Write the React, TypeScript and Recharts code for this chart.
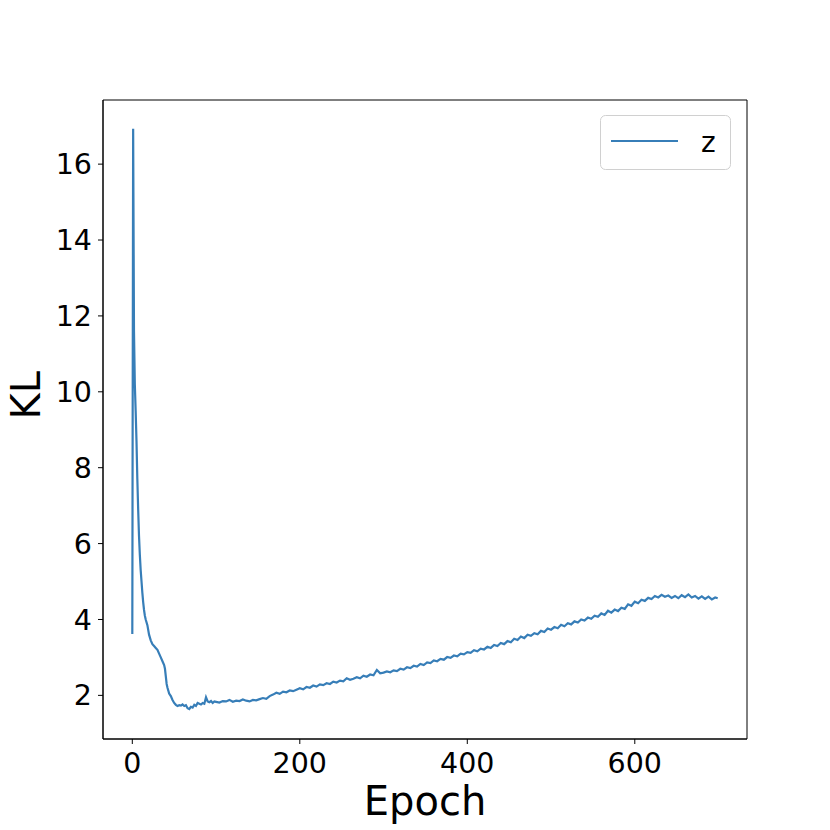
import { LineChart, Line, XAxis, YAxis, Legend, ReferenceArea } from 'recharts'

// epochs 0..98
const earlyEpochs = [
  0, 1, 2, 3, 4, 5, 6, 7, 8, 9, 10, 11, 12, 13, 14, 15, 16, 18, 20, 22, 24, 26, 28, 30,
  32, 34, 36, 38, 39, 40, 41, 42, 44, 46, 48, 50, 52, 54, 56, 58, 60, 62, 64, 66, 68,
  70, 72, 74, 76, 78, 80, 82, 84, 86, 88, 90, 92, 94, 96, 98,
]
const earlyKL = [
  3.62, 16.93, 11.6, 10.2, 9.5, 8.7, 7.7, 6.9, 6.2, 5.7, 5.3, 5.0, 4.7, 4.45, 4.25, 4.1, 4.0, 3.85, 3.6, 3.45, 3.35, 3.3, 3.25, 3.2,
  3.1, 3.0, 2.9, 2.8, 2.7, 2.5, 2.3, 2.2, 2.05, 1.98, 1.88, 1.8, 1.75, 1.72, 1.74, 1.73, 1.76, 1.72, 1.74, 1.66, 1.64,
  1.7, 1.68, 1.75, 1.72, 1.8, 1.78, 1.76, 1.8, 1.78, 1.95, 1.84, 1.82, 1.85, 1.8, 1.84,
]

// epochs 100..696 every 4, then last epoch 699
const lateStart = 100
const lateStep = 4
const lateKL = [
  1.83, 1.81, 1.85, 1.84, 1.88, 1.83, 1.86, 1.85, 1.89, 1.86,
  1.84, 1.88, 1.87, 1.9, 1.93, 1.91, 1.98, 2.02, 2.07, 2.04,
  2.1, 2.08, 2.13, 2.11, 2.15, 2.19, 2.16, 2.22, 2.2, 2.26,
  2.23, 2.29, 2.27, 2.32, 2.3, 2.36, 2.34, 2.39, 2.37, 2.45,
  2.41, 2.44, 2.48, 2.45, 2.52, 2.49, 2.55, 2.53, 2.67, 2.58,
  2.6, 2.63, 2.61, 2.66, 2.64, 2.7, 2.68, 2.74, 2.72, 2.78,
  2.76, 2.83, 2.8, 2.87, 2.85, 2.92, 2.9, 2.96, 2.94, 3.01,
  2.99, 3.05, 3.03, 3.1, 3.08, 3.14, 3.12, 3.19, 3.16, 3.23,
  3.21, 3.28, 3.25, 3.33, 3.3, 3.38, 3.35, 3.43, 3.4, 3.49,
  3.46, 3.55, 3.51, 3.6, 3.57, 3.64, 3.61, 3.7, 3.67, 3.76,
  3.73, 3.8, 3.77, 3.86, 3.82, 3.9, 3.87, 3.95, 3.92, 4.0,
  3.97, 4.05, 4.02, 4.1, 4.07, 4.16, 4.12, 4.23, 4.18, 4.26,
  4.22, 4.31, 4.28, 4.4, 4.36, 4.47, 4.43, 4.52, 4.49, 4.57,
  4.54, 4.62, 4.58, 4.65, 4.6, 4.63, 4.57, 4.62, 4.56, 4.64,
  4.59, 4.66, 4.58, 4.62, 4.55, 4.61, 4.54, 4.6, 4.53, 4.58,
]
const lastEpoch = 699
const lastKL = 4.56

const xTicks = [0, 200, 400, 600]
const yTicks = [2, 4, 6, 8, 10, 12, 14, 16]

const data = [
  ...earlyEpochs.map((e, i) => ({ epoch: e, z: earlyKL[i] })),
  ...lateKL.map((v, i) => ({ epoch: lateStart + i * lateStep, z: v })),
  { epoch: lastEpoch, z: lastKL },
]

const font = 'DejaVu Sans, sans-serif'
const blue = '#377eb8'
const xDomain = [-35, 734]
const yDomain = [0.85, 17.69]

function LegendBox() {
  return (
    <svg width={132} height={56} style={{ display: 'block' }}>
      <rect x={0.5} y={0.5} width={130} height={54} rx={5} fill="#fff" stroke="#d0d0d0" />
      <line x1={11} x2={78} y1={26} y2={26} stroke={blue} strokeWidth={2.2} />
      <text x={101} y={37} fontFamily={font} fontSize={28} fill="#000">z</text>
    </svg>
  )
}

export default function App() {
  return (
    <div style={{ position: 'absolute', left: 0, top: 0, background: '#fff' }}>
      <LineChart
        width={830}
        height={830}
        data={data}
        margin={{ top: 100, right: 83, bottom: 41, left: 43 }}
      >
        <XAxis
          dataKey="epoch"
          type="number"
          domain={xDomain}
          ticks={xTicks}
          allowDataOverflow
          height={50}
          stroke="#000"
          tickSize={5}
          tickMargin={9}
          tick={{ fill: '#000', fontSize: 28.5, fontFamily: font }}
          label={{ value: 'Epoch', position: 'insideBottom', offset: -26, fill: '#000', fontSize: 40, fontFamily: font }}
        />
        <YAxis
          type="number"
          domain={yDomain}
          ticks={yTicks}
          allowDataOverflow
          width={60}
          stroke="#000"
          tickSize={5}
          tickMargin={6}
          tick={{ fill: '#000', fontSize: 28.5, fontFamily: font }}
          label={{ value: 'KL', angle: -90, position: 'insideLeft', offset: -17, fill: '#000', fontSize: 40, fontFamily: font }}
        />
        {/* frame round the plot, like matplotlib's spines */}
        <ReferenceArea
          x1={xDomain[0]}
          x2={xDomain[1]}
          y1={yDomain[0]}
          y2={yDomain[1]}
          fill="none"
          stroke="#000"
          strokeWidth={1}
          ifOverflow="visible"
        />
        <Legend
          layout="vertical"
          align="center"
          verticalAlign="middle"
          wrapperStyle={{ position: 'absolute', left: 600, top: 115, width: 132, height: 56 }}
          content={() => <LegendBox />}
        />
        <Line
          dataKey="z"
          name="z"
          stroke={blue}
          strokeWidth={2.2}
          dot={false}
          type="linear"
          isAnimationActive={false}
        />
      </LineChart>
    </div>
  )
}
